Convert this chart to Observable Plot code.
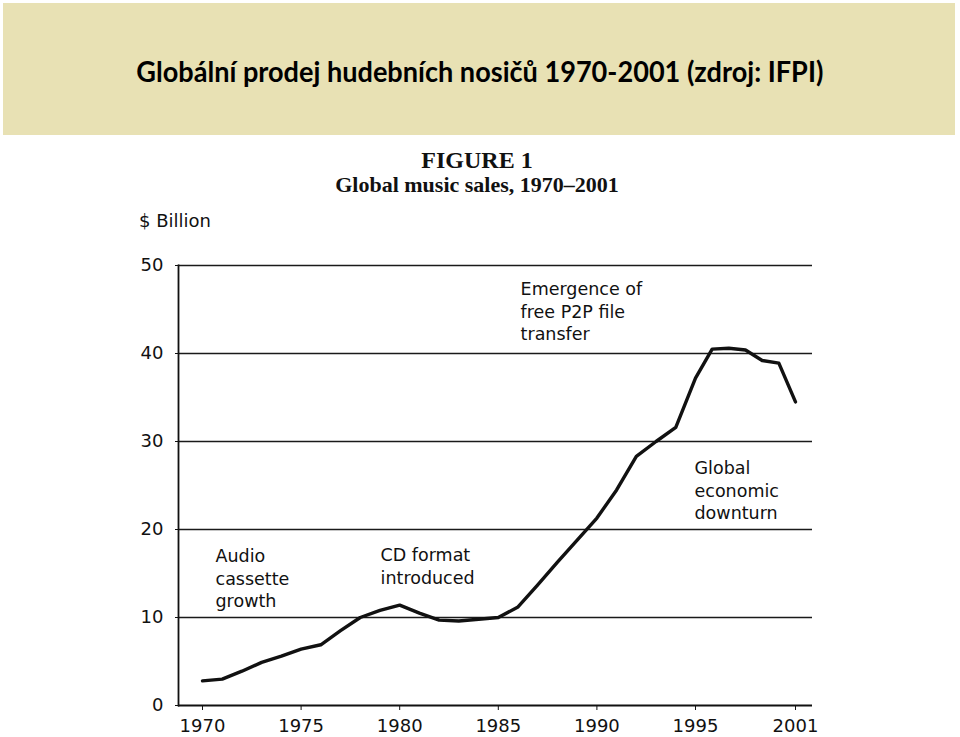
<!DOCTYPE html>
<html>
<head>
<meta charset="utf-8">
<script src="https://cdn.jsdelivr.net/npm/d3@7"></script>
<script src="https://cdn.jsdelivr.net/npm/@observablehq/plot@0.6"></script>
<style>
  html, body { margin: 0; padding: 0; background: #fff; }
  #page { position: relative; width: 960px; height: 737px; overflow: hidden; }
  #header { position: absolute; left: 3px; top: 3px; width: 952px; height: 132px; background: #e8e1b4; }
  #title { position: absolute; left: 0; width: 960px; top: 54px; text-align: center; white-space: nowrap;
           font-family: Lato, "Open Sans", sans-serif; font-weight: 700; font-size: 28px; line-height: 34px; color: #000; }
  #title span { display: inline-block; transform-origin: center; }
  .fig { position: absolute; left: 0; width: 954px; text-align: center; font-family: "Liberation Serif", "DejaVu Serif", serif;
         font-weight: 700; color: #111; white-space: nowrap; line-height: 1; }
  #fig1 { top: 149px; font-size: 24px; line-height: 22px; }
  #fig2 { top: 174px; font-size: 22px; line-height: 22px; }
  #unit { position: absolute; left: 139px; top: 212px; font-family: "DejaVu Sans", sans-serif; font-size: 18px; line-height: 1; color: #111; }
  #chart { position: absolute; left: 0; top: 135px; }
</style>
</head>
<body>
<div id="page">
  <div id="header"></div>
  <div id="title"><span id="titleText">Globální prodej hudebních nosičů 1970-2001 (zdroj: IFPI)</span></div>
  <div class="fig" id="fig1">FIGURE 1</div>
  <div class="fig" id="fig2">Global music sales, 1970–2001</div>
  <div id="unit">$ Billion</div>
  <div id="chart"></div>
</div>
<script>
// Years and global music sales ($ billion)
const years = [1970, 1971, 1972, 1973, 1974, 1975, 1976, 1977, 1978, 1979,
               1980, 1981, 1982, 1983, 1984, 1985, 1986, 1987, 1988, 1989,
               1990, 1991, 1992, 1993, 1994, 1995, 1996, 1997, 1998, 1999,
               2000, 2001];
const sales = [2.8, 3.0, 3.9, 4.9, 5.6, 6.4, 6.9, 8.5, 10.0, 10.8,
               11.4, 10.5, 9.7, 9.6, 9.8, 10.0, 11.2, 13.7, 16.3, 18.8,
               21.3, 24.5, 28.3, 30.0, 31.6, 37.2, 40.5, 40.6, 40.4, 39.2,
               38.9, 34.5];
const xTicks = [1970, 1975, 1980, 1985, 1990, 1995, 2001];
const yTicks = [0, 10, 20, 30, 40, 50];
const gridValues = [10, 20, 30, 40, 50];

// Annotations: label text, anchor year, anchor value
const noteText = ["Audio\ncassette\ngrowth", "CD format\nintroduced", "Emergence of\nfree P2P file\ntransfer", "Global\neconomic\ndownturn"];
const noteYear = [1970.66, 1979.03, 1986.13, 1994.95];
const noteValue = [18.15, 18.2, 48.5, 28.15];

const data = years.map((year, i) => ({year, sales: sales[i]}));
const notes = noteText.map((text, i) => ({text, year: noteYear[i], value: noteValue[i]}));

const chart = Plot.plot({
  width: 960,
  height: 602,
  marginTop: 130,
  marginBottom: 32,
  marginLeft: 178,
  marginRight: 148,
  x: {type: "linear", domain: [1970, 1995, 2001], range: [202, 695, 795]},
  y: {domain: [0, 50]},
  style: {fontFamily: "DejaVu Sans, sans-serif", fontSize: "18px", color: "#111", background: "transparent", overflow: "visible"},
  marks: [
    Plot.ruleY(gridValues, {stroke: "#1a1a1a", strokeWidth: 1.4}),
    Plot.ruleY([0], {stroke: "#111", strokeWidth: 1.8}),
    Plot.frame({anchor: "left", stroke: "#111", strokeWidth: 1.8}),
    Plot.axisY({ticks: yTicks, tickSize: 3, tickPadding: 12, label: null, fontSize: 18, stroke: "#111"}),
    Plot.axisX({ticks: xTicks, tickFormat: d => String(d), tickSize: 5, tickPadding: 9, label: null, fontSize: 18, stroke: "#111"}),
    Plot.line(data, {x: "year", y: "sales", stroke: "#111", strokeWidth: 3.4, curve: "linear"}),
    Plot.text(notes, {x: "year", y: "value", text: "text", textAnchor: "start", lineAnchor: "top",
                      lineHeight: 1.3, fontSize: 17.5, fill: "#111"})
  ]
});
document.getElementById("chart").appendChild(chart);

// fit the header title to the reference width
const t = document.getElementById("titleText");
const w = t.getBoundingClientRect().width;
t.style.transform = `scaleX(${687 / w})`;
</script>
</body>
</html>
